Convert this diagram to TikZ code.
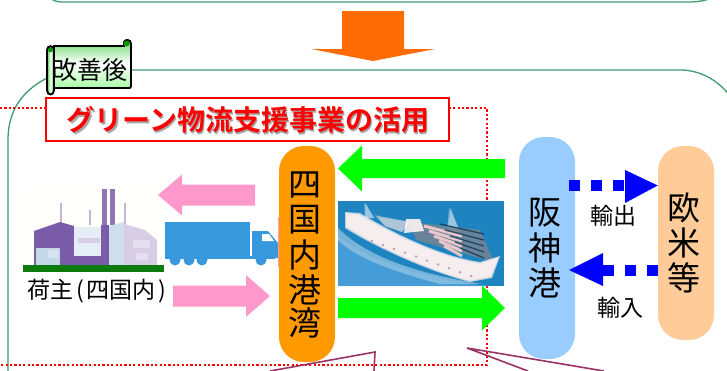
\documentclass[tikz,border=0pt]{standalone}
\usepackage{fontspec}
\setmainfont{Noto Sans CJK JP}
\newfontfamily\boldcjk{Noto Sans CJK JP Bold}
\usetikzlibrary{calc}
\definecolor{frameG}{HTML}{3F9A6E}
\definecolor{portO}{HTML}{FF9900}
\definecolor{hanB}{HTML}{99CCFF}
\definecolor{peachP}{HTML}{FFCC99}
\definecolor{arrowO}{HTML}{FF6C05}
\definecolor{pinkA}{HTML}{FF99CC}
\definecolor{limeA}{HTML}{00FF00}
\definecolor{calloutP}{HTML}{993366}
\definecolor{truckB}{HTML}{3798DB}
\definecolor{factP}{HTML}{7B5CA8}
\definecolor{factL}{HTML}{C5D8EA}
\definecolor{seaB}{HTML}{1E84C0}
\definecolor{seaL}{HTML}{4FA3DC}
\definecolor{hullW}{HTML}{FBF0F0}
\definecolor{deckG}{HTML}{6F8496}
\tikzset{
  x=1pt,y=-1pt,
  frame/.style={draw=frameG,line width=1.3pt},
  dotline/.style={draw=red,line width=2.2pt,dash pattern=on 2.2pt off 2.2pt},
  pillbox/.style={rounded corners=25pt},
  pilltext/.style={font=\fontsize{33}{34}\selectfont,align=center,text=black,inner sep=0pt},
  labeltext/.style={font=\fontsize{23}{24}\selectfont,text=black,inner sep=0pt},
  callout/.style={draw=calloutP,line width=1.6pt},
  bluedot/.style={draw=blue,line width=11pt,dash pattern=on 11pt off 11pt},
  factory/.style={fill=factP,draw=none},
}
% \blockarrow{colour}{tip}{head-base x}{far end x}{centre y}{half shaft}{half head}
\newcommand{\blockarrow}[7]{%
  \fill[#1] (#2,#5) -- (#3,#5-#7) -- (#3,#5-#6) -- (#4,#5-#6) -- (#4,#5+#6) -- (#3,#5+#6) -- (#3,#5+#7) -- cycle;}
\begin{document}
\begin{tikzpicture}
\useasboundingbox (0,0) rectangle (727,370);
\begin{scope}
\clip (0,0) rectangle (727,370);
% upper panel
\draw[frame] (44,-20) .. controls (46,-3) and (52,2) .. (62,2) -- (690,2) .. controls (705,2) and (722,-4) .. (727,-12);
% down arrow
\fill[arrowO] (342,11) -- (404,11) -- (404,49) -- (435,49) -- (373,61) -- (311,49) -- (342,49) -- cycle;
% lower panel
\draw[frame] (8,371) -- (8,140) .. controls (8,105) and (28,88) .. (47,78);
\draw[frame] (131,70) -- (680,70) .. controls (700,70) and (718,80) .. (730,96);
% dotted area
\draw[dotline] (0,108) -- (487,108) -- (487,365) -- (0,365);
% factory
\fill[white!99!yellow] (23,187) rectangle (164,265);
\fill[factP!85] (102,189) rectangle (107,225);
\fill[factP!85] (110,189) rectangle (115,225);
\draw[factP!45,line width=1.2pt] (61,203) -- (61,225);
\draw[factP!45,line width=1.2pt] (90,210) -- (90,225);
\draw[factP!45,line width=1.2pt] (125,203) -- (125,225);
\fill[factory] (34,231) -- (60,222) -- (74,226) -- (74,265) -- (34,265) -- cycle;
\fill[factL] (36,248) rectangle (60,265);
\fill[factL!70!white] (48,250) rectangle (58,258);
\fill[factL!45!white] (74,227) rectangle (103,265);
\fill[factP] (74,256) rectangle (110,265);
\fill[white!70!factP] (78,238) rectangle (100,243);
\fill[factP] (101,225) rectangle (109,256);
\fill[factL!85!white] (109,226) -- (124,222) -- (124,265) -- (109,265) -- cycle;
\fill[factP!30] (124,224) -- (145,230) -- (157,240) -- (157,265) -- (124,265) -- cycle;
\fill[white!80!factP] (133,240) rectangle (150,248);
\fill[white!80!factP] (136,253) rectangle (148,260);
\fill[green!45!black!95!white] (23,265) rectangle (164,272);
% truck
\begin{scope}[truckB]
\fill (165,222) rectangle (250,256);
\fill (252,231) -- (268,231) -- (278,243) -- (279,258) -- (252,258) -- cycle;
\fill (165,256) rectangle (275,259);
\foreach \cx in {175,189,202,261}{\fill (\cx,260) circle (5.5);}
\fill[white] (262,234) -- (269,234) -- (274,241) -- (262,241) -- cycle;
\end{scope}
\fill[pinkA] (278,217) rectangle (281,267);
% ship
\fill[seaB] (338,201) rectangle (504,286);
\fill[seaL,opacity=.8] (338,236) .. controls (370,262) and (430,280) .. (488,286) -- (338,286) -- cycle;
\fill[white!55!seaB,opacity=.7] (338,228) .. controls (368,258) and (420,274) .. (482,284) -- (440,284) .. controls (395,272) and (355,258) .. (338,240) -- cycle;
\foreach \o in {-2,-1,0}{
  \fill[white!70!seaB,opacity=.4] (366+\o,203) -- (365,218) -- (373-\o,218) -- cycle;
  \fill[white!70!seaB,opacity=.4] (451+\o,208) -- (447,232) -- (459-\o,232) -- cycle;
  \fill[white!70!deckG,opacity=.4] (375-\o,215-\o) -- (410,222) -- (402,232) -- (385,226) -- cycle;
}
\fill[deckG,opacity=.9] (410,222) -- (480,230) -- (494,262) -- (416,240) -- cycle;
\fill[white!80!pink,opacity=.9] (406,219) -- (420,219) -- (424,231) -- (404,233) -- cycle;
\foreach \i in {0,1,2,3,4}{
  \draw[pink!70!white,line width=3pt,opacity=.85] (424+\i*5,226+\i*5) -- (462,236+\i*5);
  \draw[black!60!seaB,line width=1.3pt,opacity=.8] (440+\i*5,224+\i*6) -- (484,234+\i*6);
}
\foreach \o in {-2,-1,0}{
  \fill[hullW,opacity=.7] (347+\o,214+\o) -- (358-\o,215+\o) .. controls (395,236+\o) and (440,258+\o) .. (480,264+\o) -- (498-\o,258+\o) -- (490-\o,276-\o) -- (470,280-\o) .. controls (430,270-\o) and (375,245-\o) .. (347+\o,226-\o) -- cycle;
}
\foreach \i in {0,...,9}{\fill[calloutP!60,opacity=.8] (372+\i*11,241+\i*3.9) circle (1.4);}
% arrows
\blockarrow{pinkA}{158}{182}{255}{195}{10.5}{20.5}
\blockarrow{pinkA}{270}{246}{173}{296}{10.5}{21}
\blockarrow{limeA}{338}{362}{505}{168.5}{9.5}{23}
\blockarrow{limeA}{505}{482}{338}{308}{10}{22.5}
% boxes
\node[fill=portO,pillbox,minimum width=56pt,minimum height=216pt,inner sep=0pt] (port) at (307,254) {};
\node[fill=hanB,pillbox,minimum width=56pt,minimum height=222pt,inner sep=0pt] (hanshin) at (547,248) {};
\node[fill=peachP,pillbox,minimum width=56pt,minimum height=194pt,inner sep=0pt] (oubei) at (686,243) {};
\node[pilltext] (portT) at (305,185) {四};
\node[pilltext] (portT2) at (305,220) {国};
\node[pilltext] (portT3) at (305,255) {内};
\node[pilltext] (portT4) at (305,290) {港};
\node[pilltext] (portT5) at (305,323) {湾};
\node[pilltext] (hanT) at (545,213) {阪};
\node[pilltext] (hanT2) at (545,248) {神};
\node[pilltext] (hanT3) at (545,283) {港};
\node[pilltext] (ouT) at (684,208) {欧};
\node[pilltext] (ouT2) at (684,243) {米};
\node[pilltext] (ouT3) at (684,278) {等};
% blue dotted arrows
\coordinate (expS) at (569,185.5);
\coordinate (expE) at (625,185.5);
\coordinate (impS) at (658,270);
\coordinate (impE) at (603,270);
\draw[bluedot] (expS) -- (expE);
\draw[bluedot] (impS) -- (impE);
\fill[blue] (625,170) -- (oubei.west |- expS) -- (625,203) -- cycle;
\fill[blue] (603,253) -- (569,270) -- (603,286) -- cycle;
\node[labeltext] (expL) at (613,216) {輸出};
\node[labeltext] (impL) at (620,308) {輸入};
\node[labeltext,anchor=west] (shipper) at (27,291) {荷主\hspace{3pt}(\hspace{3pt}四国内\hspace{3pt})};
% callouts
\coordinate (cA) at (375,352);
\coordinate (cB) at (467,348);
\draw[callout] (270,371) -- (cA) -- (374,371);
\draw[callout] (528,371) -- (cB) -- (604,371);
% title
\node[draw=red,line width=1.3pt,fill=white,minimum width=403pt,minimum height=43pt,inner sep=0pt] (titleBox) at (247.5,119.5) {};
\node[inner sep=0pt,text=black!35,font=\boldcjk\fontsize{28}{30}\selectfont] (titleS) at (249.5,121.5) {グリーン物流支援事業の活用};
\node[inner sep=0pt,text=red,font=\boldcjk\fontsize{28}{30}\selectfont] (title) at (248,120) {グリーン物流支援事業の活用};
% scroll
\draw[black,line width=1.9pt,top color=green!75!black!60!white,bottom color=green!35!white,middle color=white,shading angle=0]
  (54,46) -- (124,46) -- (124,42) .. controls (125,39) and (131,39) .. (131,44) -- (131,86) .. controls (131,88) and (130,88) .. (128,88) -- (54,88) -- cycle;
\fill[green!60!black] (126.5,43.5) circle (3);
\draw[black,line width=1.9pt,left color=green!70!black!70!white,right color=green!50!black!70!white,middle color=white]
  (47,50) .. controls (47,45) and (54,45) .. (54,50) -- (54,90) .. controls (54,96) and (47,96) .. (47,90) -- cycle;
\fill[green!60!black] (50.5,50) circle (2.4);
\node[inner sep=0pt,text=black,font=\fontsize{25}{26}\selectfont] (scrollT) at (89.5,70) {改善後};
\end{scope}
\end{tikzpicture}
\end{document}
